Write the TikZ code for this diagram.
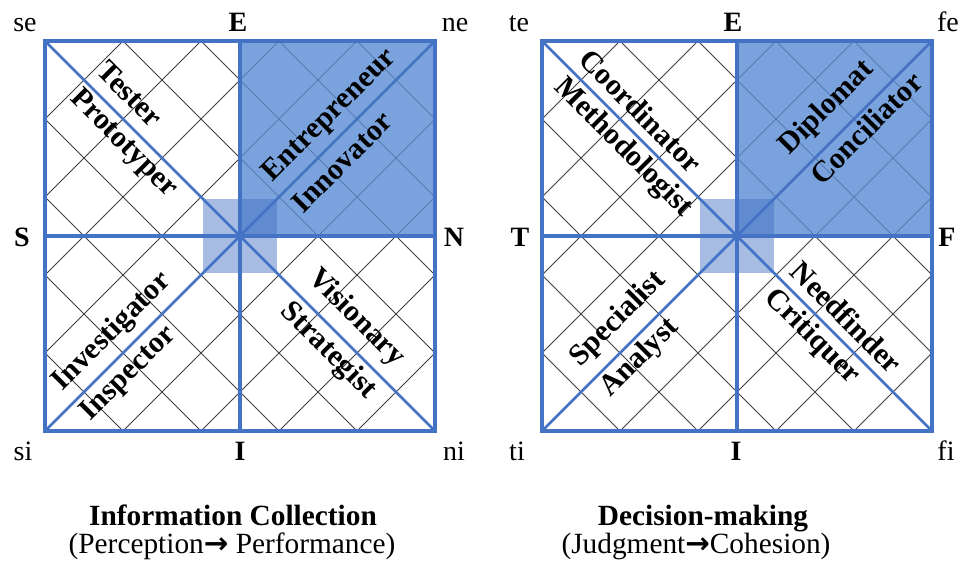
\documentclass[tikz,border=0pt]{standalone}
\usepackage{fontspec}
\setmainfont{Liberation Serif}
\newfontfamily\arrowfont{DejaVu Sans}
\usepackage{tikz}
\definecolor{mbtiblue}{RGB}{68,114,196}
\definecolor{quadblue}{RGB}{89,139,211}

\begin{document}
\begin{tikzpicture}[x=0.75pt,y=0.75pt,
  pole/.style={font=\fontsize{21}{24}\selectfont\bfseries,anchor=base},
  corner/.style={font=\fontsize{21}{24}\selectfont,anchor=base},
  role/.style={font=\fontsize{22.5}{24}\selectfont\bfseries,inner sep=0pt},
  grid line/.style={draw=black!75,line width=0.6pt},
  axis/.style={draw=mbtiblue,line width=2.4pt},
  diag/.style={draw=mbtiblue,line width=2pt},
  frame/.style={draw=mbtiblue,line width=3.2pt},
  title/.style={font=\fontsize{22}{24}\selectfont\bfseries,anchor=base},
  subtitle/.style={font=\fontsize{22}{24}\selectfont,anchor=base}]
  \useasboundingbox (0,0) rectangle (962,571);
  \foreach \cx in {240,737} {
    \begin{scope}[shift={(\cx,335)}]
      \begin{scope}
        \clip (-195,-195) rectangle (195,195);
        \foreach \k in {-4,...,4} {
          \draw[grid line] (\k*78-200,-200) -- (\k*78+200,200);
          \draw[grid line] (\k*78-200,200) -- (\k*78+200,-200);
        }
      \end{scope}
      \fill[quadblue,opacity=0.8] (0,0) rectangle (195,195);
      \fill[mbtiblue,opacity=0.48] (-37,-37) rectangle (37,37);
      \draw[diag] (-195,-195) -- (195,195) (-195,195) -- (195,-195);
      \draw[axis] (-195,0) -- (195,0) (0,-195) -- (0,195);
      \draw[frame] (-195,-195) rectangle (195,195);
    \end{scope}
  }
  % left panel
  \node[corner] (se) at (25,539) {se};
  \node[pole] (E1) at (238,539) {E};
  \node[corner] (ne) at (455,539) {ne};
  \node[pole] (S) at (22,324) {S};
  \node[pole] (N) at (454,324) {N};
  \node[corner] (si) at (23,111) {si};
  \node[pole] (I1) at (240,111) {I};
  \node[corner] (ni) at (454,111) {ni};
  \node[role,rotate=-45] (tester) at (130,477) {Tester};
  \node[role,rotate=-45] (prototyper) at (123,427) {Prototyper};
  \node[role,rotate=45] (entrepreneur) at (330,455) {Entrepreneur};
  \node[role,rotate=45] (innovator) at (342,409) {Innovator};
  \node[role,rotate=45] (investigator) at (112,239) {Investigator};
  \node[role,rotate=45] (inspector) at (129,197) {Inspector};
  \node[role,rotate=-45] (visionary) at (356,253) {Visionary};
  \node[role,rotate=-45] (strategist) at (328,220) {Strategist};
  % right panel
  \node[corner] (te) at (519,539) {te};
  \node[pole] (E2) at (733,539) {E};
  \node[corner] (fe) at (948,539) {fe};
  \node[pole] (T) at (520,324) {T};
  \node[pole] (F) at (947,324) {F};
  \node[corner] (ti) at (517,111) {ti};
  \node[pole] (I2) at (736,111) {I};
  \node[corner] (fi) at (946,111) {fi};
  \node[role,rotate=-45] (coordinator) at (641,460) {Coordinator};
  \node[role,rotate=-45] (methodologist) at (623,423) {Methodologist};
  \node[role,rotate=45] (diplomat) at (827,463) {Diplomat};
  \node[role,rotate=45] (conciliator) at (866,443) {Conciliator};
  \node[role,rotate=45] (specialist) at (618,252) {Specialist};
  \node[role,rotate=45] (analyst) at (640,213) {Analyst};
  \node[role,rotate=-45] (needfinder) at (847,254) {Needfinder};
  \node[role,rotate=-45] (critiquer) at (812,234) {Critiquer};
  % captions
  \node[title] (info) at (233,46) {Information Collection};
  \node[subtitle] (perception) at (232,18) {(Perception{\arrowfont\bfseries →} Performance)};
  \node[title] (decision) at (703,46) {Decision-making};
  \node[subtitle] (judgment) at (696,18) {(Judgment{\arrowfont\bfseries →}Cohesion)};
\end{tikzpicture}
\end{document}
